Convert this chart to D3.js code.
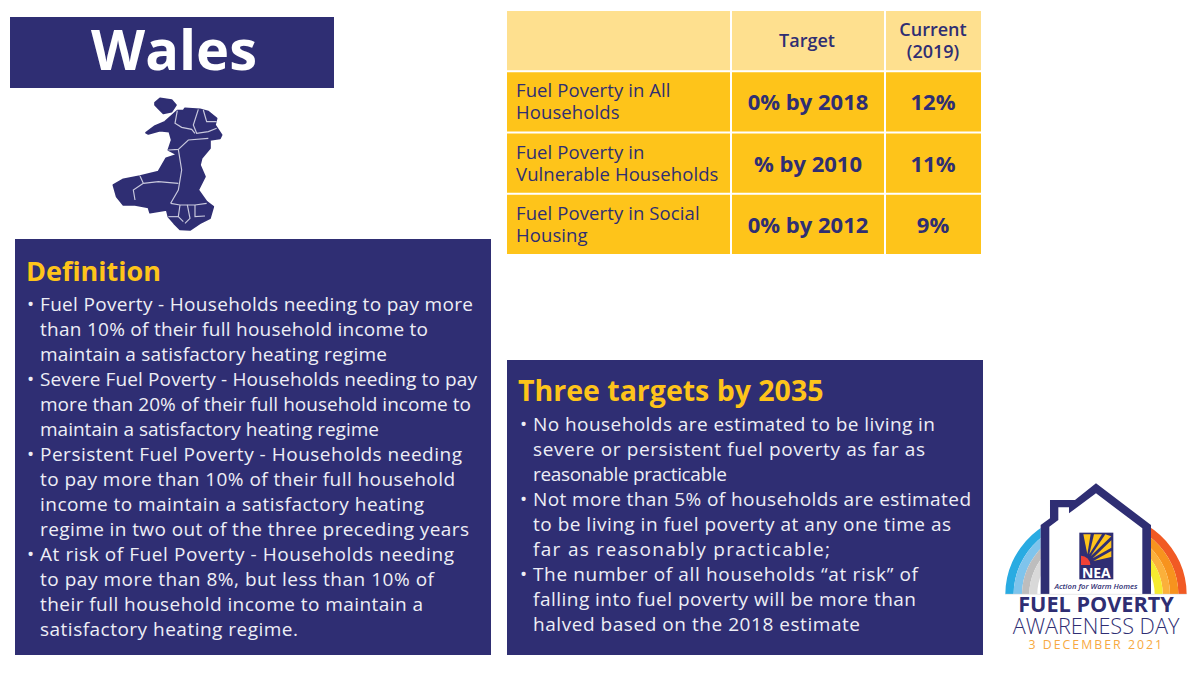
<!DOCTYPE html>
<html><head><meta charset="utf-8">
<script src="https://cdn.jsdelivr.net/npm/d3@7"></script>
<style>html,body{margin:0;background:#fff}svg{display:block}text{font-family:"Open Sans",sans-serif}</style>
</head><body><svg id="c" width="1200" height="675"></svg>
<script>
const navy="#2f2e73", amber="#fec41a", pale="#fee08f";
const rowLabels=[["Fuel Poverty in All","Households"],["Fuel Poverty in","Vulnerable Households"],["Fuel Poverty in Social","Housing"]];
const targets=["0% by 2018","% by 2010","0% by 2012"];
const current=["12%","11%","9%"];
const definitionLines=[
["•","Fuel Poverty - Households needing to pay more"],["","than 10% of their full household income to"],["","maintain a satisfactory heating regime"],
["•","Severe Fuel Poverty - Households needing to pay"],["","more than 20% of their full household income to"],["","maintain a satisfactory heating regime"],
["•","Persistent Fuel Poverty - Households needing"],["","to pay more than 10% of their full household"],["","income to maintain a satisfactory heating"],["","regime in two out of the three preceding years"],
["•","At risk of Fuel Poverty - Households needing"],["","to pay more than 8%, but less than 10% of"],["","their full household income to maintain a"],["","satisfactory heating regime."]];
const targetLines=[
["•","No households are estimated to be living in"],["","severe or persistent  fuel poverty as far as"],["","reasonable practicable"],
["•","Not more than 5% of households are estimated"],["","to be living in fuel poverty at any one time as"],["","far as reasonably practicable;"],
["•","The number of all households “at risk” of"],["","falling into fuel poverty will be more than"],["","halved based on the 2018 estimate"]];
const coolBands=["#29abe2","#7fc4ec","#bdbdbd","#d9d9d9"];
const warmBands=["#f15a24","#f7931e","#fbb03b","#f6eb2f"];

// layout: right-hand end of every text line in the two panels
const definitionEnds=[473,428,387,477,471,379,462,455,424,469,454,434,423,298];
const targetEnds=[935,925,727,971,951,830,918,916,860];

const svg=d3.select("#c");
function box(x,y,w,h,f){return svg.append("rect").attr("x",x).attr("y",y).attr("width",w).attr("height",h).attr("fill",f);}
function txt(p,x,y,s,size,fill,weight,anchor){return p.append("text").attr("x",x).attr("y",y).text(s).attr("font-size",size).attr("fill",fill).attr("font-weight",weight||400).attr("text-anchor",anchor||"start");}

// title
box(10,17,324,71,navy);
txt(svg,174,70,"Wales",56,"#fff",700,"middle");

// map (zoomed-crop coordinates)
const map=svg.append("g").attr("transform","translate(100,90) scale(0.3333)");
const outlines=["M165,38L180,25L215,30L228,45L215,65L190,70L175,55L165,45Z",
"M138,128L165,108L195,95L232,62L250,62L255,55L300,58L325,65L350,85L345,105L365,135L360,145L330,150L330,175L305,205L300,225L315,260L295,300L320,335L340,350L330,385L300,400L270,420L240,418L222,400L205,380L200,360L150,368L145,352L105,345L70,345L50,320L40,285L70,268L120,258L175,245L198,205L232,194L205,180L215,150L208,125L180,122L145,132Z"];
map.selectAll("path.o").data(outlines).join("path").attr("class","o").attr("d",d=>d).attr("fill",navy).attr("stroke",navy).attr("stroke-width",5).attr("stroke-linejoin","round");
const borders=["M232,62L225,100L245,112L275,118L285,130","M295,58L280,105L290,130L325,125L350,115","M310,60L320,95L350,95","M205,180L235,178L265,150L325,145","M235,178L245,240L235,300L212,340",
"M120,258L130,280L100,300L105,330","M130,280L175,275L235,280","M212,340L240,345L285,345L320,340","M240,345L235,380L250,395","M262,345L270,385L255,400","M285,345L285,380L315,378","M205,380L235,380"];
map.selectAll("path.b").data(borders).join("path").attr("class","b").attr("d",d=>d).attr("fill","none").attr("stroke","#c9c9dd").attr("stroke-width",3.5);

// table
const colEdges=[[507,223],[732,152],[886,95]];
const rowY=d3.scaleBand().domain(d3.range(4)).range([11,254]).paddingInner(0.033);
colEdges.forEach(c=>box(c[0],rowY(0),c[1],rowY.bandwidth(),pale));
txt(svg,807,47,"Target",18,navy,600,"middle");
txt(svg,933,36,"Current",18,navy,600,"middle");
txt(svg,933,58,"(2019)",18,navy,600,"middle");
rowLabels.forEach((r,i)=>{
  const y=rowY(i+1),h=rowY.bandwidth();
  colEdges.forEach(c=>box(c[0],y,c[1],h,amber));
  txt(svg,516,y+25,r[0],18.5,navy,400).attr("letter-spacing",0.1);
  txt(svg,516,y+47,r[1],18.5,navy,400).attr("letter-spacing",0.1);
  txt(svg,808,y+38,targets[i],22,navy,700,"middle");
  txt(svg,933,y+38,current[i],22,navy,700,"middle");
});

// text panels
function panel(x,y,w,h,title,tx,ty,tsize,lines,ends,bx,lx,firstY){
  box(x,y,w,h,navy);
  txt(svg,tx,ty,title,tsize,amber,700);
  const ly=d3.scaleLinear().domain([0,1]).range([firstY,firstY+25]);
  const g=svg.append("g");
  g.selectAll("text.l").data(lines).join("text").attr("class","l").attr("x",lx).attr("y",(d,i)=>ly(i)).text(d=>d[1]).attr("font-size",19).attr("fill","#eeeef6").attr("textLength",(d,i)=>ends[i]-lx).attr("lengthAdjust","spacing");
  g.selectAll("text.d").data(lines.filter(d=>d[0])).join("text").attr("class","d").attr("x",bx).attr("y",d=>ly(lines.indexOf(d))).text(d=>d[0]).attr("font-size",19).attr("fill","#eeeef6");
}
panel(15,239,476,416,"Definition",26,281,27,definitionLines,definitionEnds,27,40,311);
panel(507,360,476,295,"Three targets by 2035",518,401,28.5,targetLines,targetEnds,520,533,431);

// logo (zoomed-crop coordinates)
const logo=svg.append("g").attr("transform","translate(1000,475) scale(0.3333)");
const arc=d3.arc();
const radii=[272,247,222,200,176];
[[coolBands,-Math.PI/2,0],[warmBands,0,Math.PI/2]].forEach(([cols,a0,a1])=>{
  cols.forEach((c,i)=>logo.append("path").attr("transform","translate(288,357) scale(1,0.92)")
    .attr("d",arc({innerRadius:radii[i+1],outerRadius:radii[i],startAngle:a0,endAngle:a1})).attr("fill",c));
});
logo.append("path").attr("d","M122,357L122,150L150,130L150,75L225,75L288,25L453,150L453,357Z").attr("fill","#fff");
logo.append("path").attr("d","M122,357L122,150L150,130L150,75L225,75L288,25L453,150L453,357L427,357L427,160L288,55L207,115L207,97L175,97L175,135L148,155L148,357Z").attr("fill",navy);
logo.append("line").attr("x1",15).attr("x2",560).attr("y1",358).attr("y2",358).attr("stroke","#ddd").attr("stroke-width",2);
logo.append("rect").attr("x",238).attr("y",173).attr("width",102).attr("height",140).attr("fill",navy);
const rays=[[250,178,272,178,262,238],[282,178,306,178,268,238],[316,178,334,184,272,244],[334,196,334,218,278,250],[334,228,334,246,280,258]];
logo.selectAll("path.r").data(rays).join("path").attr("class","r").attr("d",d=>`M${d[0]},${d[1]}L${d[2]},${d[3]}L${d[4]},${d[5]}Z`).attr("fill",amber);
logo.append("path").attr("d","M243,270L243,242A28,28 0 0 1 271,270Z").attr("fill","#ef4136");
logo.append("text").attr("x",289).attr("y",309).attr("text-anchor","middle").attr("font-size",42).attr("font-weight",700).attr("fill","#fff").text("NEA");
logo.append("text").attr("x",288).attr("y",343).attr("text-anchor","middle").attr("font-size",23).attr("font-style","italic").attr("font-weight",600).attr("fill",navy).text("Action for Warm Homes");
logo.append("text").attr("x",288).attr("y",411).attr("text-anchor","middle").attr("font-size",65).attr("font-weight",700).attr("fill",navy).text("FUEL POVERTY");
logo.append("text").attr("x",288).attr("y",478).attr("text-anchor","middle").attr("font-size",65).attr("font-weight",300).attr("fill",navy).text("AWARENESS DAY");
logo.append("text").attr("x",289).attr("y",522).attr("text-anchor","middle").attr("font-size",37).attr("letter-spacing",6).attr("fill","#f7a941").text("3 DECEMBER 2021");
</script></body></html>
